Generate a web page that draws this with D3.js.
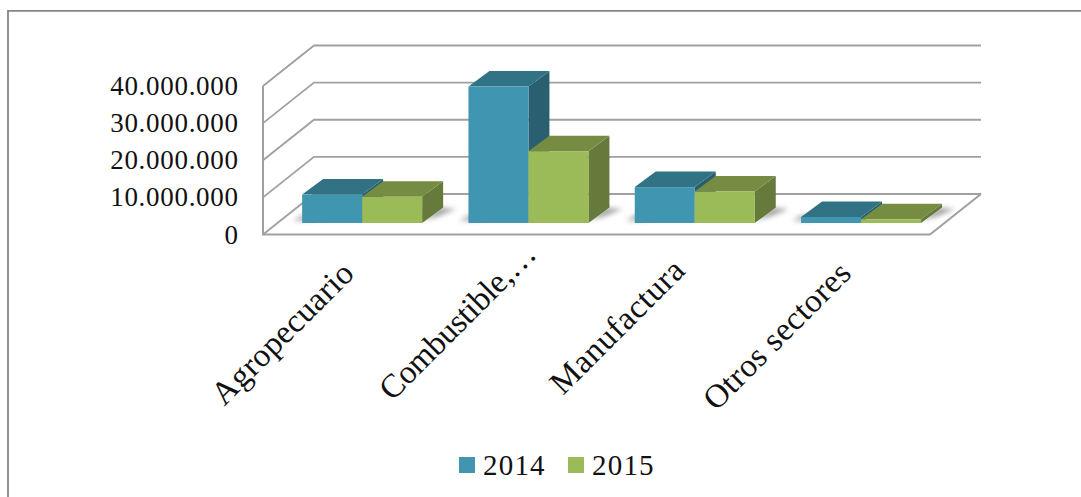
<!DOCTYPE html>
<html><head><meta charset="utf-8">
<script src="https://cdn.jsdelivr.net/npm/d3@7/dist/d3.min.js"></script>
<style>html,body{margin:0;padding:0;background:#fff}svg{display:block}text{font-family:"Liberation Serif",serif;fill:#111}</style>
</head><body><div id="c"></div>
<script>
const categories=["Agropecuario","Combustible,…","Manufactura","Otros sectores"];
const seriesNames=["2014","2015"];
const values2014=[7600000,36500000,9600000,1600000];
const values2015=[7000000,19200000,8400000,1000000];
const tickValues=[0,10000000,20000000,30000000,40000000];
const colors={"2014":{front:"#4095b1",top:"#307285",side:"#295f70"},"2015":{front:"#9bbb59",top:"#758c43",side:"#657a3a"}};
const W=1081,H=497;
const svg=d3.select("#c").append("svg").attr("width",W).attr("height",H);
const fmt=v=>d3.format(",")(v).replace(/,/g,".");
const defs=svg.append("defs");
defs.append("filter").attr("id","sh").attr("x","-50%").attr("y","-80%").attr("width","200%").attr("height","260%")
 .append("feGaussianBlur").attr("stdDeviation",2.6);
defs.append("filter").attr("id","soft").append("feGaussianBlur").attr("stdDeviation",0.45);

// frame
svg.append("path").attr("d",`M8,${H} V10.8 H${W}`).attr("fill","none").attr("stroke","#868686").attr("stroke-width",1.8);

// geometry
const wallFrontX=263,wallBackX=314,wallRightBack=981,wallRightFront=930;
const y=d3.scaleLinear().domain([0,40000000]).range([234.5,86]);
const depthY=-40.5;
const barBase=223,barDx=21,barDy=-15.5;
const yBar=d3.scaleLinear().domain([0,40000000]).range([barBase,barBase-149.5]);
const x0=d3.scaleBand().domain(categories).range([279,944.2]);
const x1=d3.scaleBand().domain(seriesNames).range([0,120]);
const gridCol="#a0a0a0";

const grid=svg.append("g").attr("filter","url(#soft)");
tickValues.forEach(t=>{
  const yy=y(t);
  grid.append("path").attr("d",`M${wallFrontX},${yy} L${wallBackX},${yy+depthY} H${wallRightBack}`)
    .attr("fill","none").attr("stroke",gridCol).attr("stroke-width",1.8);
});
grid.append("path").attr("d",`M${wallFrontX},${y(40000000)} V${y(0)} H${wallRightFront} L${wallRightBack},${y(0)+depthY}`)
  .attr("fill","none").attr("stroke",gridCol).attr("stroke-width",2);

// axis labels
const axisG=svg.append("g");
tickValues.forEach(t=>{
  axisG.append("text").attr("x",238.7).attr("y",y(t)+9).attr("text-anchor","end")
    .attr("font-size",27).attr("letter-spacing",0.7).text(fmt(t));
});

// shadows
const shadows=svg.append("g");
categories.forEach(c=>{
  const cx=x0(c)+x0.bandwidth()/2, l=cx-60, r=cx+60;
  shadows.append("path").attr("d",`M${l-9},${barBase-2} L${l},${barBase-8} L${l+20},${barBase-8} L${l+10},${barBase-2}Z`)
    .attr("fill","#b5b5b5").attr("filter","url(#sh)");
  shadows.append("path").attr("d",`M${r},${barBase-3} L${r+18},${barBase-15} L${r+34},${barBase-14} L${r+14},${barBase-6}Z`)
    .attr("fill","#a0a0a0").attr("filter","url(#sh)");
});

// bars
const barsG=svg.append("g").attr("filter","url(#soft)");
const data=categories.map((c,i)=>({c,vals:[{s:"2014",v:values2014[i]},{s:"2015",v:values2015[i]}]}));
data.forEach(d=>{
  const off=x0(d.c)+x0.bandwidth()/2-60;
  d.vals.forEach(o=>{
    const xl=off+x1(o.s),xr=xl+x1.bandwidth(),yt=yBar(o.v),col=colors[o.s];
    const g=barsG.append("g");
    g.append("path").attr("d",`M${xr},${barBase} L${xr+barDx},${barBase+barDy} V${yt+barDy} L${xr},${yt}Z`).attr("fill",col.side);
    g.append("path").attr("d",`M${xl},${yt} L${xl+barDx},${yt+barDy} H${xr+barDx} L${xr},${yt}Z`).attr("fill",col.top);
    g.append("rect").attr("x",xl).attr("y",yt).attr("width",xr-xl).attr("height",barBase-yt).attr("fill",col.front);
  });
});

// category labels
const labelAnchor=[356,538,687,853];
const labelAnchorY=[275,256,272,275];
const labelSpacing=[0.4,-0.3,0.6,0.4];
categories.forEach((c,i)=>{
  svg.append("text").attr("transform",`translate(${labelAnchor[i]},${labelAnchorY[i]}) rotate(-45)`)
    .attr("text-anchor","end").attr("font-size",33).attr("letter-spacing",labelSpacing[i]).text(c);
});

// legend
const lg=svg.append("g");
[[459,483],[568,592]].forEach((p,i)=>{
  lg.append("rect").attr("x",p[0]).attr("y",457).attr("width",16).attr("height",16).attr("fill",colors[seriesNames[i]].front);
  lg.append("text").attr("x",p[1]).attr("y",475).attr("font-size",29).attr("letter-spacing",1.2).text(seriesNames[i]);
});
</script></body></html>
